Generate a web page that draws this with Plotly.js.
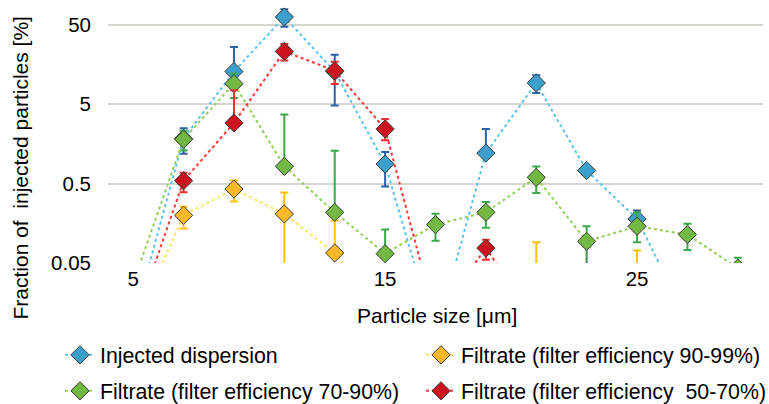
<!DOCTYPE html>
<html>
<head>
<meta charset="utf-8">
<script src="https://cdn.plot.ly/plotly-3.0.1.min.js"></script>
<style>html,body{margin:0;padding:0;background:#fff;}#chart{width:769px;height:404px;}</style>
</head>
<body>
<div id="chart"></div>
<script>
// Particle size [µm]
const xInjected = [5, 7, 9, 11, 13, 15, 17, 19, 21, 23, 25, 27];
const yInjected = [0.0088, 1.84, 12.9, 62.7, 12.9, 0.88, 0.006, 1.21, 9.25, 0.73, 0.179, 0.0095];
const errInjectedPlus = [0, 0.65, 13.4, 15.5, 8.1, 0.37, 0, 1.23, 2.35, 0, 0.05, 0];
const errInjectedMinus = [0, 0.65, 0, 15.5, 8.1, 0.42, 0, 0, 2.35, 0, 0.054, 0];

const xF9099 = [5, 7, 9, 11, 13, 15, 17, 19, 21, 23, 25];
const yF9099 = [0.0074, 0.199, 0.427, 0.207, 0.0668, 0.01, 0.005, 0.005, 0.02, 0.02, 0.02];
const errF9099Plus = [0, 0.057, 0.12, 0.18, 0.105, 0, 0, 0, 0.071, 0.059, 0.052];
const errF9099Minus = [0, 0.063, 0.13, 0.18, 0, 0, 0, 0, 0, 0, 0];

const xF7090 = [5, 7, 9, 11, 13, 15, 17, 19, 21, 23, 25, 27, 29];
const yF7090 = [0.028, 1.81, 9.06, 0.824, 0.217, 0.0655, 0.152, 0.217, 0.598, 0.0935, 0.145, 0.114, 0.043];
const errF7090Plus = [0, 0.51, 3.1, 2.87, 1.08, 0.066, 0.056, 0.077, 0.225, 0.052, 0.07, 0.042, 0.015];
const errF7090Minus = [0, 0.51, 3.1, 0, 0, 0, 0.057, 0.078, 0.217, 0.052, 0.054, 0.041, 0];

const xF5070 = [5, 7, 9, 11, 13, 15, 17, 19, 21];
const yF5070 = [0.0079, 0.544, 2.9, 23.1, 13.2, 2.44, 0.01, 0.077, 0.009];
const errF5070Plus = [0, 0.14, 4.56, 5.6, 3.9, 0.82, 0, 0.021, 0];
const errF5070Minus = [0, 0.155, 0, 5.3, 4.2, 0.69, 0, 0.022, 0];

const seriesNames = [
  'Injected dispersion',
  'Filtrate (filter efficiency 90-99%)',
  'Filtrate (filter efficiency 70-90%)',
  'Filtrate (filter efficiency  50-70%)'
];
const yTickVals = [0.05, 0.5, 5, 50];
const yTickText = ['0.05', '0.5', '5', '50'];
const xTickVals = [5, 15, 25];

const FONT = '"Liberation Sans", Arial, sans-serif';

function mk(name, x, y, plus, minus, lineColor, markerColor, errColor, legend) {
  return {
    type: 'scatter', mode: 'lines+markers', name: name.replace('  ', '&nbsp; '), x: x, y: y,
    legend: legend,
    line: {color: lineColor, width: 2, dash: 'dot'},
    marker: {symbol: 'diamond', size: 14, color: markerColor, line: {color: '#3a3a3a', width: 1}},
    error_y: {type: 'data', symmetric: false, array: plus, arrayminus: minus,
              color: errColor, thickness: 2, width: 4}
  };
}

const data = [
  mk(seriesNames[0], xInjected, yInjected, errInjectedPlus, errInjectedMinus, '#5cc3e2', '#3c9fcc', '#2f5fa6', 'legend'),
  mk(seriesNames[1], xF9099, yF9099, errF9099Plus, errF9099Minus, '#ffe55a', '#fbb829', '#ffc000', 'legend2'),
  mk(seriesNames[2], xF7090, yF7090, errF7090Plus, errF7090Minus, '#92cf57', '#72b843', '#3aaa48', 'legend3'),
  mk(seriesNames[3], xF5070, yF5070, errF5070Plus, errF5070Minus, '#ff3535', '#cc1420', '#ee3030', 'legend4')
];

function leg(x, y) {
  return {
    orientation: 'h', xref: 'container', yref: 'container',
    xanchor: 'left', yanchor: 'middle', x: x, y: y,
    font: {family: FONT, size: 21.3, color: '#000'}, bgcolor: 'rgba(0,0,0,0)'
  };
}

const layout = {
  width: 769, height: 404,
  margin: {l: 108, r: 6, t: 0, b: 141},
  paper_bgcolor: '#fff', plot_bgcolor: '#fff',
  font: {family: FONT, size: 20, color: '#000'},
  showlegend: true,
  legend: leg(60 / 769, 1 - 355 / 404),
  legend2: leg(421 / 769, 1 - 355 / 404),
  legend3: leg(60 / 769, 1 - 391 / 404),
  legend4: leg(421 / 769, 1 - 391 / 404),
  xaxis: {
    range: [4, 30], tickvals: xTickVals, ticks: '', showgrid: false,
    zeroline: false, showline: false, tickfont: {family: FONT, size: 20.5, color: '#000'},
    ticklabelstandoff: 1
  },
  yaxis: {
    type: 'log', range: [Math.log10(0.05) - 0.0005, 2.011],
    tickvals: yTickVals, ticktext: yTickText, ticks: '',
    showgrid: true, gridcolor: '#d6d6cf', gridwidth: 2,
    zeroline: false, showline: false,
    tickfont: {family: FONT, size: 20.5, color: '#000'},
    ticklabelstandoff: 16
  },
  annotations: [
    {text: 'Particle size [μm]', xref: 'paper', yref: 'paper', x: 0.502, y: -0.2,
     xanchor: 'center', yanchor: 'middle', showarrow: false,
     font: {family: FONT, size: 21, color: '#000'}},
    {text: 'Fraction of&nbsp; injected particles [%]', xref: 'paper', yref: 'paper',
     x: -0.134, y: 0.36, xanchor: 'center', yanchor: 'middle', textangle: -90,
     showarrow: false, font: {family: FONT, size: 21, color: '#000'}}
  ]
};

Plotly.newPlot('chart', data, layout, {displayModeBar: false, staticPlot: true});
</script>
</body>
</html>
